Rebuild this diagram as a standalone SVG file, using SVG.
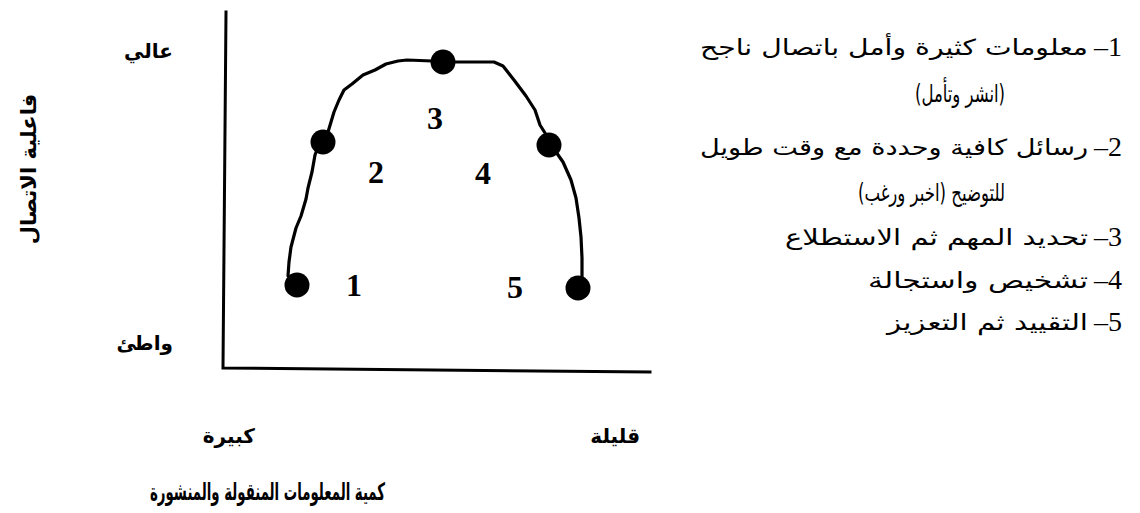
<svg xmlns="http://www.w3.org/2000/svg" width="1140" height="513" viewBox="0 0 1140 513">
<style>
.ax{stroke:#000;stroke-width:3;fill:none;stroke-linecap:square}
.cv{stroke:#000;stroke-width:3.2;fill:none;stroke-linejoin:round;stroke-linecap:round}
.dot{fill:#000}
.num{font-family:"Liberation Serif",serif;font-weight:bold;font-size:32px;fill:#000}
.lab{font-family:"DejaVu Sans",sans-serif;font-weight:bold;font-size:20px;fill:#000}
.vl{font-family:"DejaVu Sans",sans-serif;font-weight:bold;font-size:21px;fill:#000}
.bot{font-family:"DejaVu Sans",sans-serif;font-weight:bold;font-size:20px;fill:#000}
.ttl{font-family:"DejaVu Sans",sans-serif;font-weight:bold;font-size:24px;fill:#000}
.li{font-family:"DejaVu Sans",sans-serif;font-size:22px;fill:#000}
.li2{font-family:"DejaVu Sans",sans-serif;font-size:24px;fill:#000}
.ln{font-family:"Liberation Serif",serif;font-size:28px;fill:#000}
.rtl{direction:rtl;unicode-bidi:embed}
</style>
<rect width="1140" height="513" fill="#fff"/>
<g id="axes">
<path class="ax" d="M226,12 L223,368 L650,372"/>
</g>
<g id="connectors">
<path class="cv" d="M288,276 L289,262 L291,247 L296,228 L301,216 L306,199 L308,188 L312,172 L315,155 L318,147 M328,132 L334,112 L339,100 L344,90 L352,84 L363,75 L375,70 L386,64 L398,61 L407,60 L432,61 M455,62 L472,62 L494,62 L503,66 L514,80 L526,96 L535,110 L540,125 L545,133 M556,152 L563,162 L571,180 L576,198 L579,218 L581,237 L582,258 L582,279"/>
</g>
<g id="node1"><circle class="dot" cx="297" cy="285" r="12.5"/><text class="num" x="354" y="296" text-anchor="middle">1</text></g>
<g id="node2"><circle class="dot" cx="323" cy="142" r="12.5"/><text class="num" x="376" y="183" text-anchor="middle">2</text></g>
<g id="node3"><circle class="dot" cx="443" cy="62" r="12.5"/><text class="num" x="435" y="129" text-anchor="middle">3</text></g>
<g id="node4"><circle class="dot" cx="549" cy="145" r="12.5"/><text class="num" x="483" y="184" text-anchor="middle">4</text></g>
<g id="node5"><circle class="dot" cx="578" cy="288" r="12.5"/><text class="num" x="515" y="298" text-anchor="middle">5</text></g>
<g id="axis-labels">
<text class="lab rtl" x="173" y="58" text-anchor="start">عالي</text>
<text class="lab rtl" x="173" y="350" text-anchor="start">واطئ</text>
<text class="vl rtl" transform="translate(36,169) rotate(-90)" x="0" y="0" text-anchor="middle">فاعلية الاتصال</text>
<text class="bot rtl" x="255" y="443" text-anchor="start">كبيرة</text>
<text class="bot rtl" x="640" y="443" text-anchor="start">قليلة</text>
<text class="ttl rtl" x="385" y="500" text-anchor="start" textLength="235" lengthAdjust="spacingAndGlyphs">كمية المعلومات المنقولة والمنشورة</text>
</g>
<g id="legend">
<text class="ln" x="1122" y="56" text-anchor="end">–1</text>
<text class="li rtl" x="1088" y="55" text-anchor="start" textLength="388" lengthAdjust="spacingAndGlyphs">معلومات كثيرة وأمل باتصال ناجح</text>
<text class="li2 rtl" x="1005" y="102" text-anchor="start" textLength="90" lengthAdjust="spacingAndGlyphs">(انشر وتأمل)</text>
<text class="ln" x="1122" y="156" text-anchor="end">–2</text>
<text class="li rtl" x="1088" y="155" text-anchor="start" textLength="388" lengthAdjust="spacingAndGlyphs">رسائل كافية وحددة مع وقت طويل</text>
<text class="li2 rtl" x="1005" y="201" text-anchor="start" textLength="147" lengthAdjust="spacingAndGlyphs">للتوضيح (اخبر ورغب)</text>
<text class="ln" x="1122" y="246" text-anchor="end">–3</text>
<text class="li rtl" x="1088" y="245" text-anchor="start" textLength="303" lengthAdjust="spacingAndGlyphs">تحديد المهم ثم الاستطلاع</text>
<text class="ln" x="1122" y="289" text-anchor="end">–4</text>
<text class="li rtl" x="1088" y="288" text-anchor="start" textLength="220" lengthAdjust="spacingAndGlyphs">تشخيص واستجالة</text>
<text class="ln" x="1122" y="331" text-anchor="end">–5</text>
<text class="li rtl" x="1088" y="330" text-anchor="start" textLength="201" lengthAdjust="spacingAndGlyphs">التقييد ثم التعزيز</text>
</g>
</svg>
